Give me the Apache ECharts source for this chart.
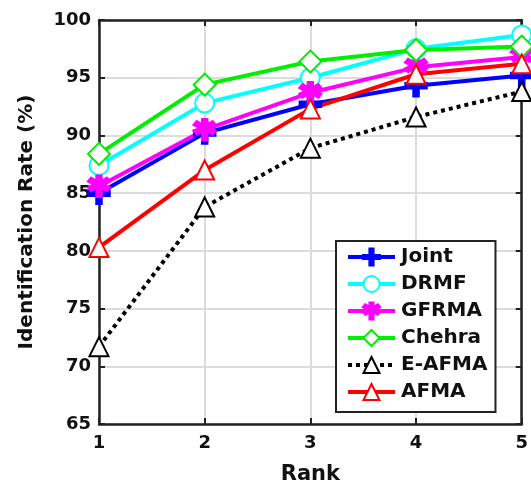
<!DOCTYPE html>
<html>
<head>
<meta charset="utf-8">
<script src="https://cdn.jsdelivr.net/npm/echarts@6/dist/echarts.min.js"></script>
<style>
  html, body { margin: 0; padding: 0; background: #fff; }
  #chart { width: 531px; height: 490px; }
</style>
</head>
<body>
<div id="chart"></div>
<script>
// ranks on x axis
const ranks = [1, 2, 3, 4, 5]
const yTicks = [65, 70, 75, 80, 85, 90, 95, 100]

const joint = [85.0, 90.2, 92.7, 94.3, 95.2]
const drmf = [87.4, 92.8, 95.0, 97.5, 98.7]
const gfrma = [85.6, 90.5, 93.7, 95.9, 96.8]
const chehra = [88.4, 94.4, 96.4, 97.4, 97.7]
const eafma = [71.7, 83.8, 88.9, 91.6, 93.8]
const afma = [80.3, 87.0, 92.3, 95.3, 96.2]

const plusPath = 'path://M-2,-10 L2,-10 L2,-2 L10,-2 L10,2 L2,2 L2,10 L-2,10 L-2,2 L-10,2 L-10,-2 L-2,-2Z'
const starPath = 'path://M-1.6,-10 L1.6,-10 L1.6,-4.2 L6.4,-7.6 L8.2,-5 L3.2,-1.8 L8.2,1.4 L6.4,4 L1.6,0.8 L1.6,10 L-1.6,10 L-1.6,0.8 L-6.4,4 L-8.2,1.4 L-3.2,-1.8 L-8.2,-5 L-6.4,-7.6 L-1.6,-4.2Z'

const chart = echarts.init(document.getElementById('chart'))

function makeSeries(name, values, color, symbol, opts = {}) {
  return {
    name,
    type: 'line',
    data: ranks.map((r, i) => [r, values[i]]),
    symbol,
    symbolSize: opts.size || 19,
    clip: false,
    lineStyle: { color, width: 4, type: opts.dash || 'solid' },
    itemStyle: { color, borderColor: color, borderWidth: 3.5 },
    emphasis: { disabled: true },
  }
}

const axisFont = {
  fontFamily: 'DejaVu Sans',
  fontWeight: 'bold',
  fontSize: 18,
  color: '#111',
}

const option = {
  animation: false,
  backgroundColor: '#fff',
  grid: { left: 99, right: 5, top: 20, bottom: 59 },
  legend: {
    orient: 'vertical',
    left: 336,
    top: 241,
    padding: [6, 8, 10, 10],
    itemWidth: 47,
    itemHeight: 20,
    itemGap: 7,
    backgroundColor: '#fff',
    borderColor: '#222',
    borderWidth: 2,
    borderRadius: 0,
    lineStyle: { width: 4 },
    itemStyle: { borderWidth: 3 },
    textStyle: { ...axisFont, fontSize: 20, padding: [0, 0, 0, 1] },
    data: ['Joint', 'DRMF', 'GFRMA', 'Chehra', 'E-AFMA', 'AFMA'],
  },
  xAxis: [
    {
      type: 'value',
      min: 1,
      max: 5,
      interval: 1,
      name: 'Rank',
      nameLocation: 'middle',
      nameGap: 40,
      nameTextStyle: { ...axisFont, fontSize: 21 },
      axisLine: { lineStyle: { color: '#222', width: 2.5 } },
      axisTick: { inside: true, length: 6, lineStyle: { color: '#222', width: 2 } },
      axisLabel: { ...axisFont, margin: 10 },
      splitLine: { lineStyle: { color: '#dcdcdc', width: 2 } },
    },
    {
      type: 'value',
      position: 'top',
      min: 1,
      max: 5,
      interval: 1,
      axisLine: { lineStyle: { color: '#222', width: 2.5 } },
      axisTick: { inside: true, length: 6, lineStyle: { color: '#222', width: 2 } },
      axisLabel: { show: false },
      splitLine: { show: false },
    },
  ],
  yAxis: [
    {
      type: 'value',
      min: 65,
      max: 100,
      interval: 5,
      name: 'Identification Rate (%)',
      nameLocation: 'middle',
      nameGap: 62,
      nameTextStyle: { ...axisFont, fontSize: 20 },
      axisLine: { lineStyle: { color: '#222', width: 2.5 } },
      axisTick: { inside: true, length: 6, lineStyle: { color: '#222', width: 2 } },
      axisLabel: { ...axisFont, margin: 8 },
      splitLine: { lineStyle: { color: '#dcdcdc', width: 2 } },
    },
    {
      type: 'value',
      position: 'right',
      min: 65,
      max: 100,
      interval: 5,
      axisLine: { show: true, lineStyle: { color: '#222', width: 2.5 } },
      axisTick: { show: true, inside: true, length: 6, lineStyle: { color: '#222', width: 2 } },
      axisLabel: { show: false },
      splitLine: { show: false },
    },
  ],
  series: [
    makeSeries('Joint', joint, '#0000ff', plusPath, { size: 20 }),
    makeSeries('DRMF', drmf, '#00ffff', 'emptyCircle'),
    makeSeries('GFRMA', gfrma, '#ff00ff', starPath, { size: 20 }),
    makeSeries('Chehra', chehra, '#00ee00', 'emptyDiamond', { size: 22 }),
    makeSeries('E-AFMA', eafma, '#000000', 'emptyTriangle', { dash: 'dotted' }),
    makeSeries('AFMA', afma, '#ff0000', 'emptyTriangle'),
  ],
}

chart.setOption(option)
</script>
</body>
</html>
